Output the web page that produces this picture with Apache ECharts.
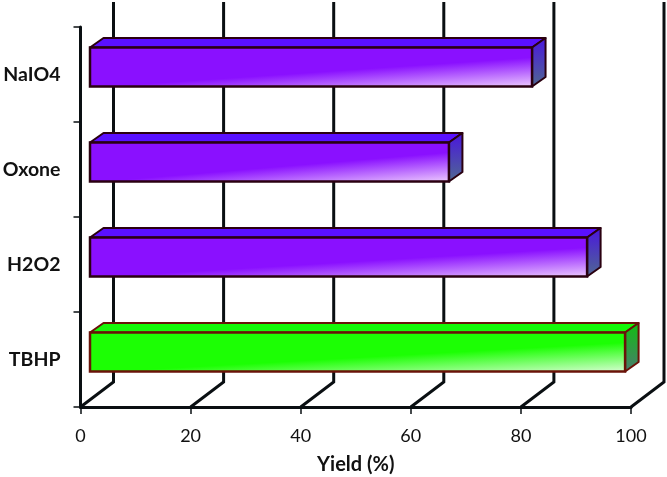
<!DOCTYPE html>
<html><head><meta charset="utf-8">
<style>html,body{margin:0;padding:0;background:#fff}#c{width:667px;height:477px}</style>
<script src="https://cdn.jsdelivr.net/npm/echarts@6/dist/echarts.min.js"></script>
</head><body><div id="c"></div>
<script>
const categories = ['NaIO4', 'Oxone', 'H2O2', 'TBHP'];
const yields = [80.3, 65.2, 90.3, 97.2];
const xTicks = [0, 20, 40, 60, 80, 100];
const frontColors = [
  ['#8a10ff', '#8a10ff', '#fbe6fd'],
  ['#8a10ff', '#8a10ff', '#fbe6fd'],
  ['#8a10ff', '#8a10ff', '#fbe6fd'],
  ['#1cff04', '#1cff04', '#f4fdf2']
];
const topColors = ['#5a10ff', '#5a10ff', '#5a10ff', '#16f808'];
const sideColors = [
  ['#4a14e0', '#4f6a90'],
  ['#4a14e0', '#4f6a90'],
  ['#4a14e0', '#4f6a90'],
  ['#10c010', '#4a7a70']
];
const edgeColors = ['#2a0010', '#2a0010', '#2a0010', '#6a1208'];

const chart = echarts.init(document.getElementById('c'), null, {renderer: 'canvas'});
const depthX = 33, depthY = 25, frontX = 9.5, barH = 39, sideX = 13.5, sideY = 9.5;

function gridItem(params, api) {
  const x = api.coord([api.value(0), categories[3]])[0];
  const yb = params.coordSys.y + params.coordSys.height;
  return {
    type: 'polyline', silent: true,
    shape: {points: [[x, yb], [x + depthX, yb - depthY], [x + depthX, 2]]},
    style: {stroke: '#0a0f12', lineWidth: 3, fill: null}
  };
}
function barItem(params, api) {
  const i = params.dataIndex;
  const c = api.coord([api.value(0), categories[i]]);
  const z = api.coord([0, categories[i]]);
  const x0 = z[0] + frontX, x1 = c[0] + frontX;
  const y0 = c[1] - 7.5 - barH / 2, y1 = y0 + barH;
  const w = x1 - x0, h = y1 - y0;
  // gradient running so the light part gathers in the lower right corner
  const gx = 0.45 / w, gy = 0.55 / h, g2 = gx * gx + gy * gy;
  const top = [[x0, y0], [x0 + sideX, y0 - sideY], [x1 + sideX, y0 - sideY], [x1, y0]];
  const side = [[x1, y0], [x1 + sideX, y0 - sideY], [x1 + sideX, y1 - sideY], [x1, y1]];
  const edge = edgeColors[i];
  return {
    type: 'group',
    children: [
      {type: 'polygon', shape: {points: top},
        style: {fill: topColors[i], stroke: edge, lineWidth: 2, lineJoin: 'round'}},
      {type: 'polygon', shape: {points: side},
        style: {fill: new echarts.graphic.LinearGradient(0, 0, 0, 1, [
          {offset: 0, color: sideColors[i][0]}, {offset: 1, color: sideColors[i][1]}]),
          stroke: edge, lineWidth: 2, lineJoin: 'round'}},
      {type: 'rect', shape: {x: x0, y: y0, width: w, height: h},
        style: {fill: new echarts.graphic.LinearGradient(0, 0, gx / g2 / w, gy / g2 / h, [
          {offset: 0, color: frontColors[i][0]},
          {offset: 0.55, color: frontColors[i][1]},
          {offset: 1, color: frontColors[i][2]}]),
          stroke: edge, lineWidth: 2.5}}
    ]
  };
}

chart.setOption({
  animation: false,
  backgroundColor: '#fff',
  textStyle: {fontFamily: 'Lato'},
  grid: {left: 80.5, right: 36, top: 27, bottom: 70, containLabel: false, outerBoundsMode: 'none'},
  xAxis: {
    type: 'value', min: 0, max: 100, interval: 20,
    name: 'Yield (%)', nameLocation: 'middle', nameGap: 48,
    nameTextStyle: {fontFamily: 'Lato', fontWeight: 'bold', fontSize: 20, color: '#111'},
    axisLine: {show: true, lineStyle: {color: '#0a0f12', width: 3}},
    axisTick: {show: true, length: 7, lineStyle: {color: '#0a0f12', width: 1.5}},
    axisLabel: {fontFamily: 'Lato', fontSize: 18, color: '#111', margin: 20},
    splitLine: {show: false}
  },
  yAxis: {
    type: 'category', data: categories, inverse: true,
    axisLine: {show: true, lineStyle: {color: '#0a0f12', width: 3}},
    axisTick: {show: true, length: 7, alignWithLabel: false, lineStyle: {color: '#0a0f12', width: 1.5}},
    axisLabel: {fontFamily: 'Lato', fontWeight: 'bold', fontSize: 19.5, color: '#111', margin: 20, padding: [5, 0, 0, 0]},
    splitLine: {show: false}
  },
  series: [
    {type: 'custom', coordinateSystem: 'cartesian2d', clip: false, z: 1, silent: true,
      encode: {x: 0}, data: xTicks.map(v => [v]), renderItem: gridItem},
    {type: 'custom', coordinateSystem: 'cartesian2d', clip: false, z: 3, silent: true,
      encode: {x: 0}, data: yields.map(v => [v]), renderItem: barItem}
  ]
});
</script></body></html>
